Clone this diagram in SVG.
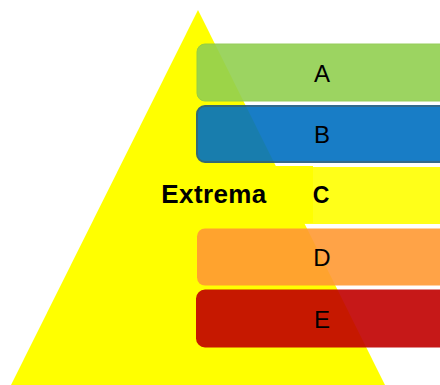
<svg xmlns="http://www.w3.org/2000/svg" width="440" height="385" viewBox="0 0 440 385">
<style>
.box{opacity:0.9}
.lbl{font-family:"Liberation Sans",Arial,sans-serif;font-size:24px;fill:#000;text-anchor:middle}
.bold{font-weight:bold}
</style>
<rect width="440" height="385" fill="#ffffff"/>
<g id="pyramid">
<polygon points="198,10 11,385 385,385" fill="#ffff00"/>
</g>
<g id="connectors"></g>
<g id="nodeA">
<rect class="box" x="197" y="44" width="260" height="57" rx="8" fill="#92d050" stroke="#8cc84a" stroke-width="1"/>
<text class="lbl" x="322" y="81.5">A</text>
</g>
<g id="nodeB">
<rect class="box" x="197" y="106" width="260" height="56" rx="8" fill="#0070c0" stroke="#1f5a80" stroke-width="2"/>
<text class="lbl" x="322" y="143">B</text>
</g>
<g id="nodeC">
<rect class="box" x="197" y="167" width="260" height="57" rx="8" fill="#ffff00"/>
<rect x="150" y="166" width="163" height="57" fill="#ffff00"/>
<text class="lbl bold" x="321" y="202.5" style="font-size:23px">C</text>
</g>
<g id="labelExtrema">
<text class="lbl bold" x="214" y="202.5" style="font-size:26px;letter-spacing:0.4px">Extrema</text>
</g>
<g id="nodeD">
<rect class="box" x="197" y="228.5" width="260" height="57" rx="8" fill="#ff9933"/>
<text class="lbl" x="322" y="266">D</text>
</g>
<g id="nodeE">
<rect class="box" x="197" y="290.5" width="260" height="56" rx="8" fill="#c00000" stroke="#c00000" stroke-width="2"/>
<text class="lbl" x="322" y="327.5">E</text>
</g>
</svg>
